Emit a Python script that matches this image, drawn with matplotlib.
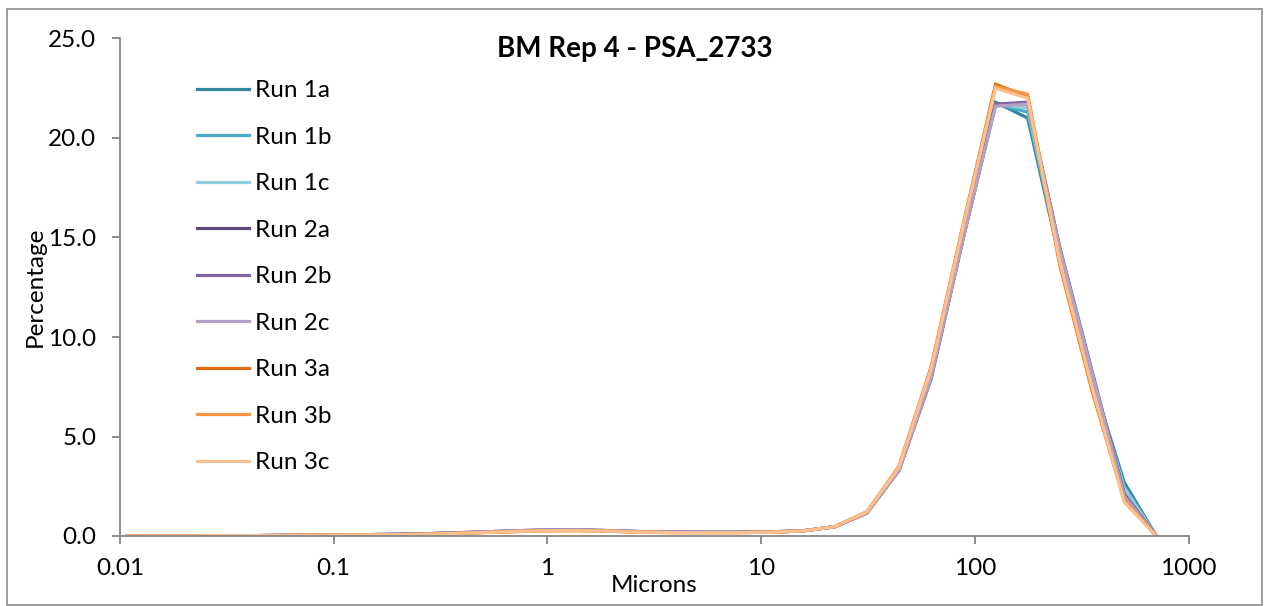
import matplotlib
matplotlib.use("Agg")
import matplotlib.pyplot as plt
from matplotlib.patches import Rectangle

plt.rcParams["font.family"] = ["Lato", "DejaVu Sans"]

# particle size bins (microns), sqrt(2) spacing
microns = [0.0108, 0.0153, 0.0216, 0.0305, 0.0432, 0.0610, 0.0863, 0.122, 0.173,
           0.244, 0.345, 0.488, 0.690, 0.976, 1.38, 1.95, 2.76, 3.91, 5.52, 7.81,
           11.05, 15.6, 22.1, 31.25, 44.2, 62.5, 88.4, 125.0, 176.8, 250.0, 353.6,
           500.0, 707.1]

run_1a = [0.00, 0.00, 0.00, 0.01, 0.02, 0.03, 0.04, 0.05, 0.07, 0.09, 0.13, 0.18, 0.24,
          0.28, 0.29, 0.26, 0.21, 0.19, 0.18, 0.18, 0.20, 0.25, 0.47, 1.20, 3.40,
          8.2, 15.2, 21.8, 21.0, 13.9, 7.9, 2.7, 0.0]
run_1b = [0.00, 0.00, 0.00, 0.01, 0.02, 0.03, 0.04, 0.05, 0.07, 0.09, 0.13, 0.18, 0.24,
          0.28, 0.29, 0.26, 0.21, 0.19, 0.18, 0.18, 0.20, 0.25, 0.47, 1.20, 3.40,
          8.2, 15.2, 21.7, 21.3, 14.0, 7.9, 2.5, 0.0]
run_1c = [0.00, 0.00, 0.00, 0.01, 0.02, 0.03, 0.04, 0.05, 0.07, 0.09, 0.13, 0.18, 0.24,
          0.28, 0.29, 0.26, 0.21, 0.19, 0.18, 0.18, 0.20, 0.25, 0.47, 1.20, 3.40,
          8.2, 15.2, 21.7, 21.5, 14.1, 7.9, 2.4, 0.0]
run_2a = [0.00, 0.00, 0.00, 0.01, 0.02, 0.03, 0.04, 0.06, 0.08, 0.10, 0.15, 0.20, 0.26,
          0.30, 0.31, 0.27, 0.22, 0.20, 0.19, 0.19, 0.21, 0.26, 0.46, 1.15, 3.30,
          8.0, 15.0, 21.7, 21.7, 14.4, 8.2, 2.1, 0.0]
run_2b = [0.00, 0.00, 0.00, 0.01, 0.02, 0.03, 0.04, 0.06, 0.08, 0.10, 0.15, 0.20, 0.26,
          0.30, 0.31, 0.27, 0.22, 0.20, 0.19, 0.19, 0.21, 0.26, 0.46, 1.15, 3.30,
          7.9, 15.0, 21.7, 21.8, 14.5, 8.3, 2.1, 0.0]
run_2c = [0.00, 0.00, 0.00, 0.01, 0.02, 0.03, 0.04, 0.06, 0.08, 0.10, 0.15, 0.20, 0.26,
          0.30, 0.31, 0.27, 0.22, 0.20, 0.19, 0.19, 0.21, 0.26, 0.46, 1.15, 3.30,
          8.0, 15.0, 21.6, 21.7, 14.4, 8.2, 2.0, 0.0]
run_3a = [0.00, 0.00, 0.00, 0.01, 0.02, 0.03, 0.04, 0.05, 0.06, 0.08, 0.12, 0.17, 0.22,
          0.26, 0.27, 0.24, 0.19, 0.17, 0.17, 0.17, 0.19, 0.25, 0.47, 1.20, 3.50,
          8.5, 15.7, 22.7, 22.1, 13.6, 7.3, 1.8, 0.0]
run_3b = [0.00, 0.00, 0.00, 0.01, 0.02, 0.03, 0.04, 0.05, 0.06, 0.08, 0.12, 0.17, 0.22,
          0.26, 0.27, 0.24, 0.19, 0.17, 0.17, 0.17, 0.19, 0.25, 0.47, 1.20, 3.50,
          8.5, 15.6, 22.6, 22.2, 13.7, 7.4, 1.8, 0.0]
run_3c = [0.00, 0.00, 0.00, 0.01, 0.02, 0.03, 0.04, 0.05, 0.06, 0.08, 0.12, 0.17, 0.22,
          0.26, 0.27, 0.24, 0.19, 0.17, 0.17, 0.17, 0.19, 0.25, 0.47, 1.20, 3.45,
          8.4, 15.6, 22.5, 22.0, 13.8, 7.5, 1.7, 0.0]

labels = ["Run 1a", "Run 1b", "Run 1c", "Run 2a", "Run 2b", "Run 2c",
          "Run 3a", "Run 3b", "Run 3c"]
series = [run_1a, run_1b, run_1c, run_2a, run_2b, run_2c, run_3a, run_3b, run_3c]
colors = ["#31859C", "#4BACC6", "#92CDDC", "#5F497A", "#8064A2", "#B3A2C7",
          "#E46C0A", "#F79646", "#FAC090"]

W, H = 1266, 606
fig = plt.figure(figsize=(W / 100, H / 100), dpi=100)
ax = fig.add_axes([120 / W, 70 / H, 1068.5 / W, 497.5 / H])

for vals, lab, col in zip(series, labels, colors):
    ax.plot(microns, vals, color=col, lw=2.3, label=lab, solid_joinstyle="miter")

ax.set_xscale("log")
ax.set_xlim(0.01, 1000)
ax.set_ylim(0, 25)
ax.set_xticks([0.01, 0.1, 1, 10, 100, 1000])
ax.set_xticklabels(["0.01", "0.1", "1", "10", "100", "1000"])
ax.minorticks_off()
ax.set_yticks([0, 5, 10, 15, 20, 25])
ax.set_yticklabels([f"{v:.1f}" for v in [0, 5, 10, 15, 20, 25]])

axis_grey = "#868686"
for side in ("top", "right"):
    ax.spines[side].set_visible(False)
for side in ("left", "bottom"):
    ax.spines[side].set_color(axis_grey)
    ax.spines[side].set_linewidth(1.3)
ax.tick_params(axis="both", direction="out", length=6, width=1.3, color=axis_grey,
               labelsize=17.5, labelcolor="black")
ax.tick_params(axis="y", pad=11)
ax.tick_params(axis="x", pad=10)

ax.set_xlabel("Microns", fontsize=17.5, labelpad=-3)
ax.set_ylabel("Percentage", fontsize=17.5, labelpad=2)
fig.text(635 / W, 1 - 49 / H, "BM Rep 4 - PSA_2733", fontsize=20, fontweight="bold",
         ha="center", va="center")

ax.legend(loc="upper left", bbox_to_anchor=(197 / W, 1 - 80 / H),
          bbox_transform=fig.transFigure, frameon=False, fontsize=17.5,
          handlelength=2.15, handletextpad=0.25, labelspacing=1.05,
          borderpad=0, borderaxespad=0)

fig.patches.append(Rectangle((7 / W, 1 / H), 1255 / W, 596 / H, transform=fig.transFigure,
                             fill=False, edgecolor="#8c8c8c", lw=1.2))

fig.savefig("out.png", dpi=100)
